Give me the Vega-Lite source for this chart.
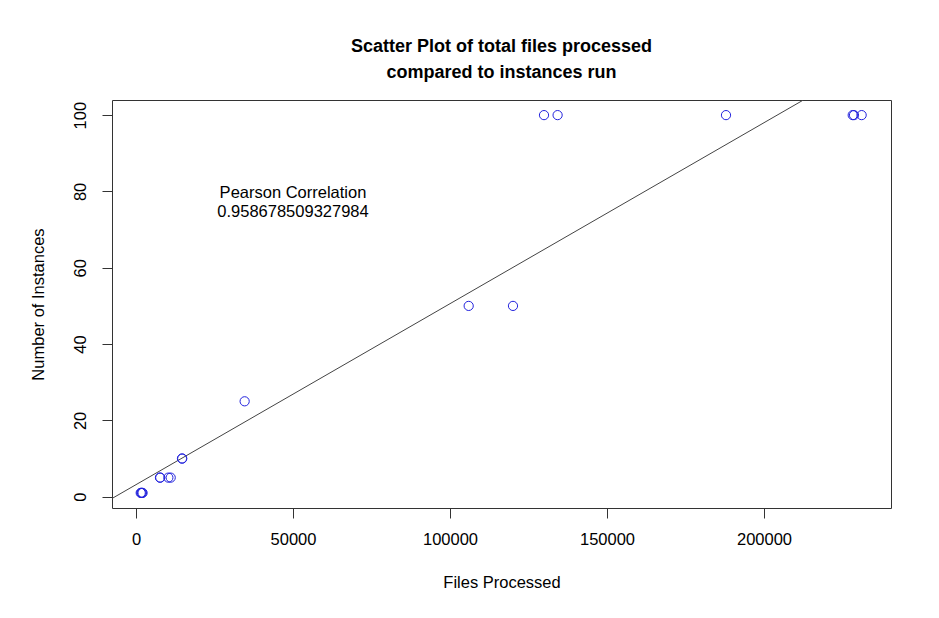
{
  "$schema": "https://vega.github.io/schema/vega-lite/v6.json",
  "autosize": {"type": "none"},
  "padding": {"left": 112, "top": 100, "right": 48, "bottom": 110},
  "width": 779,
  "height": 408,
  "background": "white",
  "config": {
    "font": "Liberation Sans",
    "view": {"stroke": "#333333", "strokeWidth": 1}
  },
  "title": {
    "text": ["Scatter Plot of total files processed", " compared to instances run"],
    "anchor": "middle",
    "fontSize": 18,
    "fontWeight": "bold",
    "color": "#000000",
    "lineHeight": 26,
    "offset": 18
  },
  "datasets": {
    "points": [
      {"files": 1500, "instances": 1},
      {"files": 1700, "instances": 1},
      {"files": 1900, "instances": 1},
      {"files": 2100, "instances": 1},
      {"files": 7640, "instances": 5},
      {"files": 7720, "instances": 5},
      {"files": 10300, "instances": 5},
      {"files": 11050, "instances": 5},
      {"files": 14650, "instances": 10},
      {"files": 14720, "instances": 10},
      {"files": 34600, "instances": 25},
      {"files": 105950, "instances": 50},
      {"files": 120060, "instances": 50},
      {"files": 129940, "instances": 100},
      {"files": 134270, "instances": 100},
      {"files": 187900, "instances": 100},
      {"files": 228250, "instances": 100},
      {"files": 228660, "instances": 100},
      {"files": 231100, "instances": 100}
    ],
    "fit": [
      {"files": -7643, "instances": -0.47},
      {"files": 212545, "instances": 103.96}
    ],
    "note": [
      {"files": 50000, "instances": 79.6, "label": "Pearson Correlation\n0.958678509327984"}
    ]
  },
  "layer": [
    {
      "data": {"name": "fit"},
      "mark": {"type": "line", "color": "#444444", "strokeWidth": 1, "clip": true},
      "encoding": {
        "x": {"field": "files", "type": "quantitative"},
        "y": {"field": "instances", "type": "quantitative"}
      }
    },
    {
      "data": {"name": "points"},
      "mark": {"type": "point", "shape": "circle", "filled": false, "color": "#2222dd", "strokeWidth": 1, "size": 85, "opacity": 1},
      "encoding": {
        "x": {
          "field": "files",
          "type": "quantitative",
          "title": "Files Processed",
          "scale": {"domain": [-7643, 240446], "nice": false, "zero": false},
          "axis": {
            "values": [0, 50000, 100000, 150000, 200000],
            "format": "d",
            "grid": false,
            "domain": false,
            "tickSize": 10,
            "tickColor": "#333333",
            "labelPadding": 13,
            "labelFontSize": 16.5,
            "labelColor": "#000000",
            "titleFontSize": 16.5,
            "titleFontWeight": "normal",
            "titleColor": "#000000",
            "titlePadding": 27
          }
        },
        "y": {
          "field": "instances",
          "type": "quantitative",
          "title": "Number of Instances",
          "scale": {"domain": [-2.96, 103.96], "nice": false, "zero": false},
          "axis": {
            "values": [0, 20, 40, 60, 80, 100],
            "format": "d",
            "grid": false,
            "domain": false,
            "tickSize": 10,
            "tickColor": "#333333",
            "labelAngle": -90,
            "labelAlign": "center",
            "labelBaseline": "bottom",
            "labelPadding": 14,
            "labelFontSize": 16.5,
            "labelColor": "#000000",
            "titleFontSize": 16.5,
            "titleFontWeight": "normal",
            "titleColor": "#000000",
            "titlePadding": 26
          }
        }
      }
    },
    {
      "data": {"name": "note"},
      "mark": {"type": "text", "lineBreak": "\n", "fontSize": 16.5, "align": "center", "baseline": "middle", "lineHeight": 19.5, "color": "#000000"},
      "encoding": {
        "x": {"field": "files", "type": "quantitative"},
        "y": {"field": "instances", "type": "quantitative"},
        "text": {"field": "label"}
      }
    }
  ]
}
